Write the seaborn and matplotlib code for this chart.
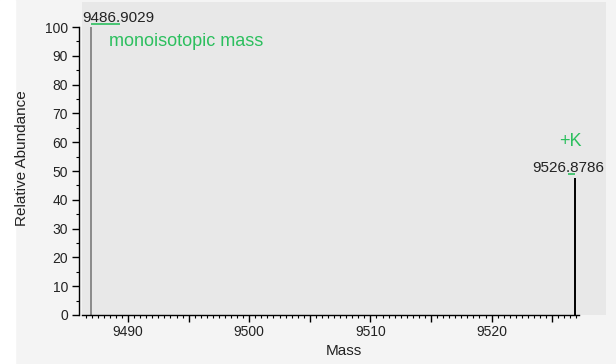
import numpy as np
import seaborn as sns
import matplotlib.pyplot as plt
from matplotlib.patches import Rectangle

# peak list (deconvoluted spectrum)
masses = [9486.9029, 9526.8786]
abundance = [100.0, 47.5]
peak_colors = ['#8a8a8a', '#000000']
peak_notes = ['monoisotopic mass', '+K']
x_ticks = [9490, 9500, 9510, 9520]
y_ticks = [0, 10, 20, 30, 40, 50, 60, 70, 80, 90, 100]

GREEN = '#2cbf5e'
X_END = 9527.23

sns.set_theme(style='ticks')
plt.rcParams['font.family'] = ['Liberation Sans', 'DejaVu Sans']

fig = plt.figure(figsize=(6.16, 3.64), dpi=100, facecolor='#f4f4f4')
fig.patches.append(Rectangle((0, 0), 15 / 616, 1, transform=fig.transFigure,
                             color='white', zorder=-1))
ax = fig.add_axes([82 / 616, 49 / 364, 524 / 616, 313 / 364])
ax.set_facecolor('#e8e8e8')

ax.vlines(masses, 0, abundance, colors=peak_colors, linewidth=1.4)

ax.set_xlim(9486.2, 9529.44)
ax.set_ylim(0, 108.7)

for s in ['top', 'right']:
    ax.spines[s].set_visible(False)
ax.spines['left'].set_position(('outward', 2))
ax.spines['left'].set_bounds(0, 100)
ax.spines['bottom'].set_bounds(9486.2, X_END)
for s in ['left', 'bottom']:
    ax.spines[s].set_color('black')
    ax.spines[s].set_linewidth(1.0)

# labelled ticks every 10, unlabelled medium ticks in between
mid = [t + 5 for t in x_ticks if t + 5 < X_END]
ax.set_xticks(x_ticks + mid, [str(t) for t in x_ticks] + [''] * len(mid))
ax.set_yticks(y_ticks)
ax.set_xticks(np.arange(9486.5, X_END, 0.5), minor=True)
ax.set_yticks(np.arange(5, 100, 10), minor=True)
ax.tick_params(axis='both', which='major', length=5, width=1, color='black',
               labelsize=10, labelcolor='#222222', pad=3)
ax.tick_params(axis='both', which='minor', length=2, width=0.8, color='black')
ax.tick_params(axis='x', which='major', pad=2)

ax.set_xlabel('Mass', fontsize=11, color='#222222', labelpad=4)
ax.set_ylabel('Relative Abundance', fontsize=11, color='#222222')
ax.yaxis.set_label_coords(-53 / 524, 0.5)

# peak labels
ax.annotate(f'{masses[0]:.4f}', xy=(masses[0], abundance[0]), xytext=(-8, 5),
            textcoords='offset pixels', ha='left', va='baseline',
            fontsize=11, color='#222222', annotation_clip=False)
ax.annotate(f'{masses[1]:.4f}', xy=(masses[1], abundance[1]), xytext=(-7, 6),
            textcoords='offset pixels', ha='center', va='baseline',
            fontsize=11, color='#222222', annotation_clip=False)

# green highlight dashes and notes
ax.hlines(abundance[0] + 1.0, masses[0] + 0.08, masses[0] + 2.4,
          colors=GREEN, linewidth=1.2)
ax.hlines(abundance[1] + 1.4, masses[1] - 0.58, masses[1],
          colors=GREEN, linewidth=1.2)
ax.annotate(peak_notes[0], xy=(masses[0], abundance[0]), xytext=(18, -19),
            textcoords='offset pixels', ha='left', va='baseline',
            fontsize=13, color=GREEN)
ax.annotate(peak_notes[1], xy=(masses[1], abundance[1]), xytext=(-5, 32),
            textcoords='offset pixels', ha='center', va='baseline',
            fontsize=13, color=GREEN)

plt.savefig('out.png', dpi=100, facecolor=fig.get_facecolor())
plt.close()
